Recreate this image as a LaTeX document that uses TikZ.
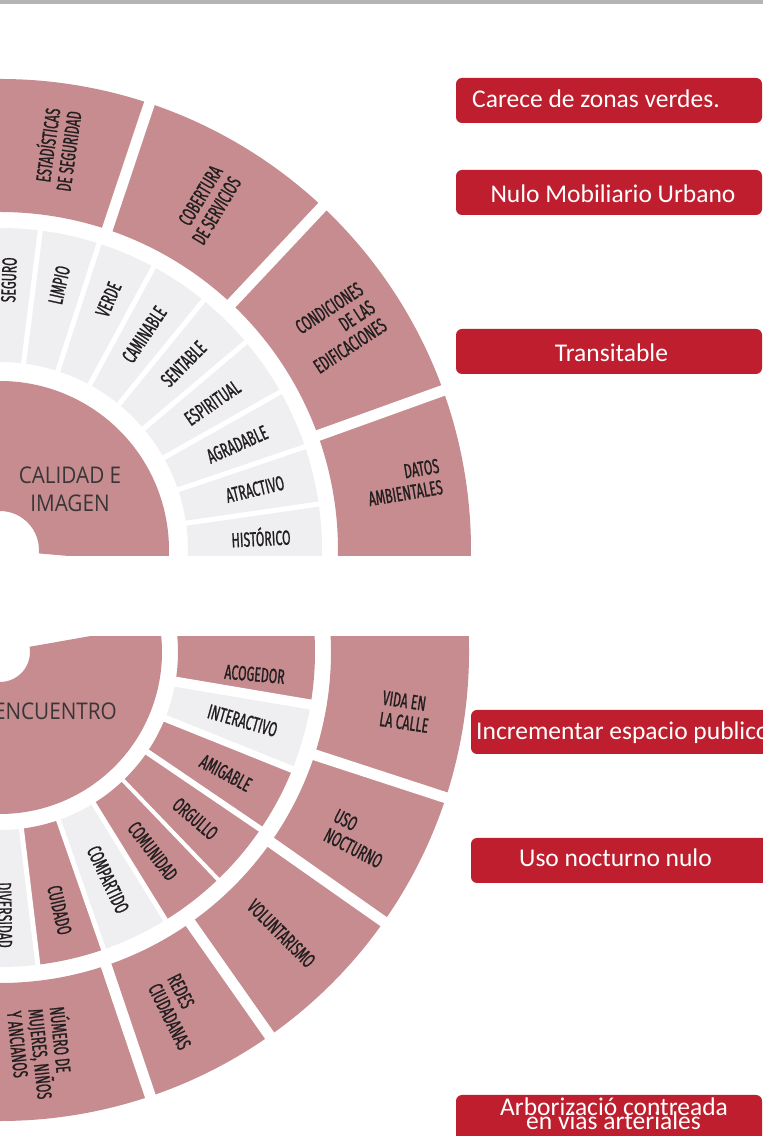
\documentclass[tikz,border=0pt]{standalone}
\usepackage{fontspec}
\setmainfont{Open Sans}
\newfontfamily\condfont[FakeStretch=0.6,FakeBold=1]{Fira Sans}
\newfontfamily\boxfont{Carlito}
\newfontfamily\hubfont[FakeStretch=0.9]{Open Sans}
\definecolor{pinkseg}{HTML}{C68C8F}
\definecolor{grayseg}{HTML}{EFEFF1}
\definecolor{boxred}{HTML}{BE1E2D}
\definecolor{darktxt}{HTML}{231F20}
\definecolor{hubtxt}{HTML}{3A3637}
\definecolor{topbar}{HTML}{B4B4B4}
\newcommand\ringseg[5]{%
  \fill[#1] (#4:#2pt) arc[start angle=#4, end angle=#5, radius=#2pt]
    -- (#5:#3pt) arc[start angle=#5, end angle=#4, radius=#3pt] -- cycle;}
\tikzset{
  lbl/.style={font=\condfont\fontsize{20.5}{21.5}\selectfont, text=darktxt, inner sep=0pt},
  hub/.style={font=\hubfont\fontsize{23}{28}\selectfont, text=hubtxt, inner sep=0pt},
  boxtxt/.style={font=\boxfont\fontsize{25.5}{30}\selectfont, text=white, inner sep=0pt},
  redbox/.style={fill=boxred, rounded corners=6pt},
  gapline/.style={draw=white, line width=#1},
}
\begin{document}
\begin{tikzpicture}[x=1pt,y=1pt]
\path[use as bounding box] (0,0) rectangle (763,1136);
\fill[white] (0,0) rectangle (763,1136);
\fill[topbar] (0,1132) rectangle (763,1136);

% ===== upper wheel: CALIDAD E IMAGEN =====
\begin{scope}
\clip (0,580) rectangle (763,1136);
\begin{scope}[shift={(0,586)}]
  \ringseg{pinkseg}{39}{169}{-5}{100}
  \ringseg{grayseg}{188}{322}{-5}{100}
  \ringseg{pinkseg}{338}{471}{-5}{100}
  \foreach \a in {8.2,18.7,29.4,40.2,50.8,61.5,72.1,82.8}
    \draw[gapline=5pt] (\a:180pt) -- (\a:330pt);
  \foreach \a in {19.8,46.8,71.5}
    \draw[gapline=11pt] (\a:330pt) -- (\a:480pt);
  % middle ring labels
  \node[lbl, rotate=2.9,  anchor=east] (historico)  at (2.9:291pt)  {HISTÓRICO};
  \node[lbl, rotate=13.4, anchor=east] (atractivo)  at (13.4:292pt) {ATRACTIVO};
  \node[lbl, rotate=24.0, anchor=east] (agradable)  at (24.0:292pt) {AGRADABLE};
  \node[lbl, rotate=34.7, anchor=east] (espiritual) at (34.7:290pt) {ESPIRITUAL};
  \node[lbl, rotate=45.4, anchor=east] (sentable)   at (45.4:289pt) {SENTABLE};
  \node[lbl, rotate=56.2, anchor=east] (caminable)  at (56.2:291pt) {CAMINABLE};
  \node[lbl, rotate=66.6, anchor=east] (verde)      at (66.6:291pt) {VERDE};
  \node[lbl, rotate=77.4, anchor=east] (limpio)     at (77.4:291pt) {LIMPIO};
  \node[lbl, rotate=88.1, anchor=east] (seguro)     at (88.1:293pt) {SEGURO};
  % outer ring labels
  \node[lbl, rotate=9.5,  anchor=east, align=right] (datos) at (9.5:447pt) {DATOS\\AMBIENTALES};
  \node[lbl, rotate=33.3, anchor=east, align=right] (condiciones) at (33.3:446pt) {CONDICIONES\\DE LAS\\EDIFICACIONES};
  \node[lbl, rotate=59,   anchor=east, align=right] (cobertura) at (59:440pt) {COBERTURA\\DE SERVICIOS};
  \node[lbl, rotate=82,   anchor=east, align=right] (estadisticas) at (82:445pt) {ESTADÍSTICAS\\DE SEGURIDAD};
\end{scope}
\end{scope}
\node[hub, align=center] (calidad) at (70,646.5) {CALIDAD E\\IMAGEN};

% ===== lower wheel: ENCUENTRO =====
\begin{scope}
\clip (0,0) rectangle (763,499);
\begin{scope}[shift={(0,484)}]
  \ringseg{pinkseg}{30}{162}{-100}{10}
  \ringseg{pinkseg}{178}{315}{-9.6}{10}
  \ringseg{grayseg}{178}{315}{-21.9}{-9.6}
  \ringseg{pinkseg}{178}{315}{-58.3}{-21.9}
  \ringseg{grayseg}{178}{315}{-70.8}{-58.3}
  \ringseg{pinkseg}{178}{315}{-83.1}{-70.8}
  \ringseg{grayseg}{178}{315}{-100}{-83.1}
  \ringseg{pinkseg}{331}{469}{-100}{10}
  \draw[gapline=10pt] (-9.6:170pt) -- (-9.6:323pt);
  \draw[gapline=7pt] (-21.9:170pt) -- (-21.9:323pt);
  \draw[gapline=6pt] (-34.2:170pt) -- (-34.2:323pt);
  \draw[gapline=4pt] (-46.2:170pt) -- (-46.2:323pt);
  \foreach \a in {-58.3,-70.8,-83.1}
    \draw[gapline=5pt] (\a:170pt) -- (\a:323pt);
  \foreach \a in {-18.1,-35.1,-54.9,-71.3}
    \draw[gapline=11pt] (\a:323pt) -- (\a:478pt);
  % middle ring labels
  \node[lbl, rotate=-5,    anchor=east] (acogedor)    at (-5:286pt)    {ACOGEDOR};
  \node[lbl, rotate=-15.8, anchor=east] (interactivo) at (-15.8:288pt) {INTERACTIVO};
  \node[lbl, rotate=-28.2, anchor=east] (amigable)    at (-28.2:284pt) {AMIGABLE};
  \node[lbl, rotate=-40.5, anchor=east] (orgullo)     at (-40.5:283pt) {ORGULLO};
  \node[lbl, rotate=-52.5, anchor=east] (comunidad)   at (-52.5:285pt) {COMUNIDAD};
  \node[lbl, rotate=-64.6, anchor=east] (compartido)  at (-64.6:288pt) {COMPARTIDO};
  \node[lbl, rotate=-77,   anchor=east] (cuidado)     at (-77:290pt)   {CUIDADO};
  \node[lbl, rotate=-89,   anchor=east] (diversidad)  at (-89:296pt)   {DIVERSIDAD};
  % outer ring labels
  \node[lbl, rotate=-8.4,  align=left] (vida) at (-8.4:410pt) {VIDA EN\\LA CALLE};
  \node[lbl, rotate=-27.5, align=left] (uso) at (-27.5:404pt) {USO\\NOCTURNO};
  \node[lbl, rotate=-45,   align=left] (voluntarismo) at (-45:398pt) {VOLUNTARISMO};
  \node[lbl, rotate=-63.5, align=left] (redes) at (-63.5:402pt) {REDES\\CIUDADANAS};
  \node[lbl, rotate=-84,   align=left] (numero) at (-84:404pt) {NÚMERO DE\\MUJERES, NIÑOS\\Y ANCIANOS};
\end{scope}
\end{scope}
\node[hub, anchor=base east] (encuentro) at (117,416) {ENCUENTRO};

% ===== red note boxes =====
\fill[redbox] (456,1013) rectangle (762,1058);
\node[boxtxt, anchor=base west] (n1) at (472,1028) {Carece de zonas verdes.};
\fill[redbox] (456,921) rectangle (762,966);
\node[boxtxt, anchor=base] (n2) at (613,933) {Nulo Mobiliario Urbano};
\fill[redbox] (456,762) rectangle (762,807);
\node[boxtxt, anchor=base] (n3) at (611.5,774) {Transitable};
\fill[redbox] (471,382) rectangle (790,426);
\node[boxtxt, anchor=base west] (n4) at (476,396) {Incrementar espacio publico};
\fill[redbox] (471,253) rectangle (790,298);
\node[boxtxt, anchor=base] (n5) at (615.5,269) {Uso nocturno nulo};
\fill[redbox] (456,-14) rectangle (762,41);
\node[boxtxt, anchor=base] (n6a) at (614,20) {Arborizació contreada};
\node[boxtxt, anchor=base] (n6b) at (613.5,6) {en vias arteriales};
\end{tikzpicture}
\end{document}
